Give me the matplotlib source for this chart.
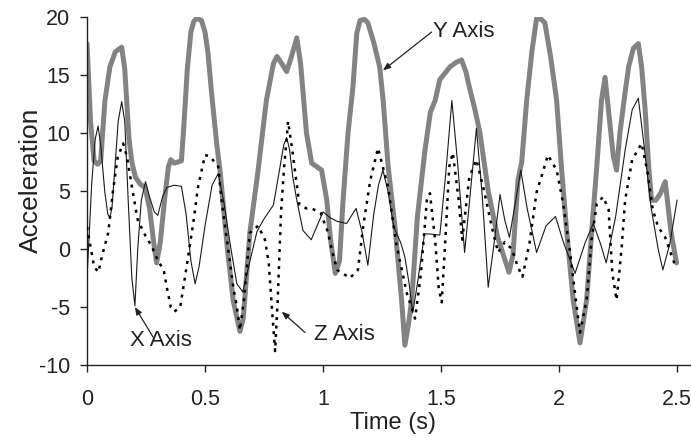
#!/usr/bin/env python3
"""
Three-axis accelerometer trace (X, Y, Z) over 2.5 s.
"""

import numpy as np
import matplotlib
matplotlib.use('Agg')
import matplotlib.pyplot as plt

plt.rcParams['font.family'] = ['Liberation Sans', 'DejaVu Sans']
plt.rcParams['axes.unicode_minus'] = False

# Y axis (thick grey trace): time (s), acceleration
y_time = [0.000, 0.015, 0.030, 0.045, 0.058, 0.076, 0.097, 0.120, 0.147, 0.160,
          0.178, 0.190, 0.205, 0.225, 0.246, 0.265, 0.283, 0.295, 0.310, 0.330,
          0.345, 0.355, 0.370, 0.400, 0.410, 0.425, 0.440, 0.452, 0.465, 0.485,
          0.500, 0.512, 0.530, 0.550, 0.565, 0.595, 0.620, 0.648, 0.662, 0.690,
          0.725, 0.760, 0.790, 0.805, 0.825, 0.846, 0.865, 0.889, 0.905, 0.930,
          0.952, 0.994, 1.016, 1.032, 1.052, 1.070, 1.085, 1.106, 1.127, 1.143,
          1.157, 1.175, 1.190, 1.215, 1.240, 1.255, 1.276, 1.305, 1.333, 1.347,
          1.362, 1.376, 1.400, 1.432, 1.455, 1.475, 1.495, 1.538, 1.565, 1.587,
          1.605, 1.623, 1.644, 1.665, 1.700, 1.740, 1.788, 1.805, 1.826, 1.842,
          1.863, 1.885, 1.905, 1.925, 1.940, 1.965, 1.990, 2.010, 2.033, 2.060,
          2.089, 2.117, 2.138, 2.160, 2.180, 2.195, 2.212, 2.230, 2.244, 2.258,
          2.280, 2.295, 2.315, 2.336, 2.350, 2.365, 2.380, 2.392, 2.410, 2.430,
          2.450, 2.475, 2.498]
y_accel = [17.7, 11.0, 7.6, 7.3, 7.6, 12.8, 15.7, 17.0, 17.4, 15.5,
           9.5, 7.5, 6.2, 5.6, 5.3, 3.5, 0.5, -1.2, 0.5, 4.5,
           7.1, 7.7, 7.4, 7.6, 10.5, 15.5, 18.7, 19.6, 19.9, 19.7,
           18.7, 17.0, 13.0, 9.0, 6.5, 0.0, -4.5, -7.1, -6.0, 1.4,
           6.8, 12.8, 16.0, 16.6, 16.0, 15.3, 16.5, 18.2, 16.0, 10.0,
           7.4, 6.8, 4.2, 0.8, -2.1, -1.0, 4.2, 10.0, 14.0, 18.6,
           19.7, 19.8, 19.5, 17.8, 15.7, 12.8, 7.1, 1.9, -4.4, -8.3,
           -6.5, -4.4, 2.8, 8.5, 11.8, 12.8, 14.6, 15.7, 16.1, 16.3,
           15.3, 13.7, 12.0, 10.0, 5.0, 1.0, -2.0, -0.5, 5.9, 7.5,
           12.8, 17.0, 19.9, 19.8, 19.5, 16.5, 12.8, 7.1, 1.4, -4.4,
           -8.1, -4.4, 1.4, 7.1, 12.8, 14.8, 11.5, 8.0, 6.8, 10.0,
           13.5, 15.7, 17.3, 17.7, 15.7, 12.0, 7.1, 4.2, 4.2, 4.8,
           5.8, 1.4, -1.2]

# X axis (thin black trace)
x_time = [0.000, 0.010, 0.020, 0.035, 0.047, 0.058, 0.075, 0.088, 0.097, 0.106,
          0.120, 0.132, 0.147, 0.160, 0.175, 0.190, 0.203, 0.215, 0.230, 0.248,
          0.265, 0.285, 0.300, 0.320, 0.338, 0.370, 0.400, 0.420, 0.440, 0.458,
          0.475, 0.500, 0.530, 0.556, 0.580, 0.610, 0.635, 0.660, 0.685, 0.720,
          0.747, 0.790, 0.818, 0.834, 0.846, 0.858, 0.872, 0.889, 0.915, 0.950,
          0.975, 1.000, 1.030, 1.058, 1.100, 1.140, 1.165, 1.190, 1.215, 1.235,
          1.254, 1.275, 1.300, 1.330, 1.347, 1.365, 1.380, 1.400, 1.430, 1.450,
          1.495, 1.520, 1.546, 1.570, 1.600, 1.625, 1.650, 1.675, 1.700, 1.725,
          1.750, 1.770, 1.790, 1.815, 1.838, 1.865, 1.905, 1.945, 1.985, 2.020,
          2.068, 2.110, 2.145, 2.175, 2.200, 2.240, 2.280, 2.310, 2.336, 2.360,
          2.390, 2.420, 2.440, 2.470, 2.500]
x_accel = [-2.5, 1.5, 5.7, 9.5, 10.6, 9.0, 5.0, 3.0, 2.7, 3.6,
           7.5, 11.0, 12.7, 11.0, 4.0, -2.5, -4.9, 0.0, 4.2, 5.8,
           4.5, 3.2, 2.9, 4.5, 5.3, 5.5, 5.4, 3.0, -1.0, -3.0,
           -1.5, 2.0, 5.5, 6.5, 4.0, 0.0, -3.0, -3.7, -1.5, 1.5,
           2.5, 3.8, 7.1, 9.0, 9.6, 8.6, 6.2, 4.2, 1.6, 0.8,
           2.0, 3.2, 2.7, 2.4, 2.2, 3.5, 1.5, -1.4, 3.0, 5.5,
           6.8, 5.0, 1.9, 0.5, -0.7, -3.0, -5.5, -3.0, 1.3, 1.3,
           1.2, 6.5, 12.8, 7.5, -0.3, 5.0, 10.4, 4.5, -3.3, 0.5,
           4.7, 2.5, 1.0, 4.0, 6.8, 3.5, -0.3, 2.0, 2.8, 0.5,
           -2.1, 0.5, 2.2, 0.5, -1.2, 2.8, 8.5, 12.0, 13.0, 9.0,
           3.6, 0.0, -1.8, 0.5, 4.2]

# Z axis (dotted trace)
z_time = [0.000, 0.015, 0.030, 0.048, 0.065, 0.090, 0.110, 0.130, 0.153, 0.170,
          0.185, 0.195, 0.215, 0.246, 0.275, 0.300, 0.325, 0.340, 0.355, 0.370,
          0.395, 0.420, 0.450, 0.470, 0.500, 0.520, 0.556, 0.570, 0.598, 0.620,
          0.635, 0.648, 0.665, 0.690, 0.725, 0.754, 0.770, 0.785, 0.797, 0.808,
          0.822, 0.835, 0.852, 0.870, 0.900, 0.930, 0.952, 0.990, 1.020, 1.040,
          1.060, 1.114, 1.148, 1.170, 1.200, 1.233, 1.276, 1.310, 1.355, 1.390,
          1.415, 1.440, 1.453, 1.475, 1.490, 1.503, 1.520, 1.535, 1.550, 1.575,
          1.590, 1.620, 1.650, 1.685, 1.715, 1.742, 1.770, 1.800, 1.825, 1.845,
          1.875, 1.905, 1.925, 1.953, 1.990, 2.015, 2.045, 2.075, 2.089, 2.117,
          2.138, 2.160, 2.187, 2.210, 2.226, 2.244, 2.265, 2.280, 2.310, 2.350,
          2.376, 2.397, 2.420, 2.450, 2.490]
z_accel = [1.9, 0.2, -1.5, -2.0, -0.5, 1.4, 5.0, 7.9, 9.1, 7.9,
           6.0, 4.8, 2.5, 1.2, 0.2, -1.0, -1.8, -3.5, -5.0, -5.4,
           -5.0, -1.8, 2.2, 5.3, 8.1, 8.0, 7.1, 4.2, 0.0, -3.3,
           -5.0, -7.0, -4.4, 1.4, 2.0, 0.8, -1.2, -5.5, -8.8, -4.4,
           3.1, 7.0, 11.0, 8.5, 3.8, 3.5, 3.5, 3.1, 1.5, -0.3,
           -1.8, -2.5, -1.8, 1.9, 5.9, 8.7, 5.3, 0.5, -3.8, -6.0,
           -2.1, 4.2, 4.8, 0.8, -3.3, -4.6, 1.4, 7.1, 8.3, 4.2,
           0.8, 6.2, 7.7, 4.8, 1.9, -0.3, 0.6, 0.0, -1.5, -2.4,
           0.5, 4.9, 6.2, 8.1, 6.8, 4.2, 0.0, -5.0, -7.2, -4.4,
           0.8, 3.9, 4.5, 3.4, -2.1, -4.4, 0.0, 4.2, 7.7, 9.1,
           6.5, 3.4, 1.9, 1.0, -1.3]

x_ticks = [0, 0.5, 1, 1.5, 2, 2.5]
x_tick_labels = ['0', '0.5', '1', '1.5', '2', '2.5']
y_ticks = [-10, -5, 0, 5, 10, 15, 20]

W, H = 691, 437
FS = 16
INK = '#222222'

fig = plt.figure(figsize=(W / 100, H / 100), dpi=100)
ax = fig.add_axes([87 / W, 1 - 365 / H, 603 / W, 348 / H])

ax.plot(y_time, y_accel, color='#838383', lw=3.6, solid_joinstyle='round',
        solid_capstyle='round', zorder=2)
ax.plot(x_time, x_accel, color='#1a1a1a', lw=0.8, zorder=3)
ax.plot(z_time, z_accel, color='black', lw=1.8, linestyle=(0, (1.2, 2.2)),
        dash_capstyle='butt', zorder=4)

ax.set_xlim(0, 2.555)
ax.set_ylim(-10, 20)
ax.set_xticks(x_ticks)
ax.set_xticklabels(x_tick_labels)
ax.set_yticks(y_ticks)

for side in ['top', 'right']:
    ax.spines[side].set_visible(False)
for side in ['left', 'bottom']:
    ax.spines[side].set_linewidth(1.0)
    ax.spines[side].set_color(INK)

ax.tick_params(axis='both', direction='out', length=5, width=1.0,
               colors=INK, labelsize=15.5)
ax.tick_params(axis='x', pad=12)
ax.tick_params(axis='y', pad=7)

fig.text(393 / W, 1 - 423 / H, 'Time (s)', fontsize=17, ha='center',
         va='center', color=INK)
fig.text(31 / W, 1 - 180 / H, 'Acceleration', fontsize=19, rotation=90,
         ha='center', va='center', color=INK)

# Series labels with leader arrows
arrow_style = dict(arrowstyle='-|>,head_length=0.45,head_width=0.18',
                   color=INK, lw=0.9, shrinkA=0, shrinkB=0)
ax.annotate('', xy=(1.254, 15.4), xytext=(1.460, 18.7), arrowprops=arrow_style)
ax.text(1.468, 18.75, 'Y Axis', fontsize=FS, ha='left', va='center', color=INK)

ax.annotate('', xy=(0.203, -5.0), xytext=(0.280, -7.6), arrowprops=arrow_style)
ax.text(0.182, -7.85, 'X Axis', fontsize=FS, ha='left', va='center', color=INK)

ax.annotate('', xy=(0.825, -5.4), xytext=(0.924, -7.2), arrowprops=arrow_style)
ax.text(0.962, -7.4, 'Z Axis', fontsize=FS, ha='left', va='center', color=INK)

fig.savefig('out.png', dpi=100)
